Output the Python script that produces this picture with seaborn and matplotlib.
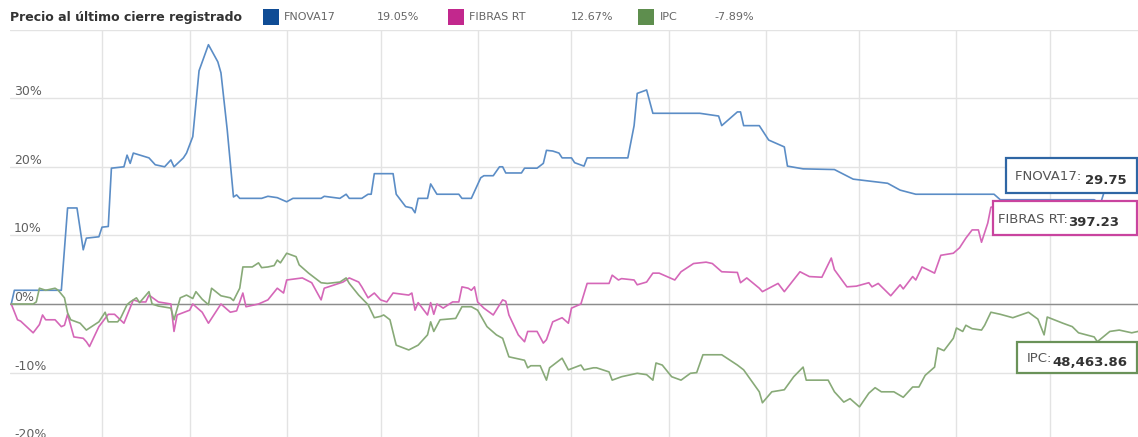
#!/usr/bin/env python3
# -*- coding: utf-8 -*-
"""
Rendimiento acumulado FNOVA17 vs FIBRAS RT vs IPC (precio al ultimo cierre)
"""

#%% Imports

import numpy as np
import pandas as pd
import seaborn as sns
import matplotlib.dates as mdates
import matplotlib.transforms as mtransforms
from matplotlib import pyplot as plt
from matplotlib.patches import Rectangle
from matplotlib.text import Annotation

#%% Data (day of year, cumulative % change)

YEAR_START = pd.Timestamp('2017-01-01')

FNOVA_DAYS = [3, 4, 19, 21, 24, 26, 27, 31, 32, 34, 35, 39, 40, 41, 42, 47, 49, 52, 54, 55,
              58, 59, 61, 63, 66, 69, 70, 72, 74, 75, 76, 83, 85, 88, 91, 93, 102, 103, 108,
              110, 111, 115, 117, 118, 119, 121, 125, 126, 129, 131, 132, 133, 136, 137, 139,
              146, 147, 150, 153, 154, 157, 159, 160, 161, 166, 167, 171, 173, 174, 176, 178,
              179, 182, 183, 186, 187, 200, 202, 203, 206, 208, 223, 229, 230, 235, 236, 237,
              242, 245, 250, 251, 256, 266, 272, 283, 287, 292, 317, 319, 349, 351, 354, 363]
FNOVA_PCT = [0.0, 2.0, 2.0, 14.0, 14.0, 7.9, 9.6, 9.8, 11.2, 11.3, 19.8, 20.0, 21.7, 20.5, 22.0,
             21.3, 20.3, 20.0, 21.0, 20.0, 21.3, 22.0, 24.4, 34.0, 37.8, 35.3, 33.7, 25.4, 15.6,
             15.9, 15.4, 15.4, 15.7, 15.5, 14.9, 15.4, 15.4, 15.7, 15.4, 16.0, 15.4, 15.4, 16.0,
             16.0, 19.0, 19.0, 19.0, 16.0, 14.2, 14.0, 13.3, 15.4, 15.4, 17.5, 16.0, 16.0, 15.4,
             15.4, 18.4, 18.7, 18.7, 20.0, 20.0, 19.1, 19.1, 19.8, 19.8, 20.5, 22.4, 22.3, 22.0,
             21.3, 21.3, 20.6, 20.1, 21.3, 21.3, 26.0, 30.7, 31.2, 27.8, 27.8, 27.4, 26.0, 28.0,
             28.0, 26.0, 26.0, 23.9, 22.9, 20.1, 19.7, 19.6, 18.2, 17.6, 16.6, 16.0, 16.0, 15.2,
             15.2, 14.6, 19.0, 19.05]

FIBRAS_DAYS = [3, 5, 6, 10, 12, 13, 14, 17, 19, 20, 21, 23, 26, 27, 28, 31, 34, 36, 39, 42,
               44, 46, 47, 50, 54, 55, 56, 60, 61, 64, 66, 70, 73, 75, 77, 78, 82, 85, 88, 90,
               91, 96, 99, 102, 103, 109, 111, 114, 115, 117, 119, 121, 123, 125, 130, 131,
               132, 133, 136, 137, 138, 139, 141, 144, 146, 147, 149, 150, 151, 152, 154, 157,
               160, 161, 162, 165, 167, 168, 171, 173, 174, 176, 179, 181, 182, 185, 187, 194,
               195, 197, 198, 202, 203, 206, 208, 210, 215, 217, 221, 225, 227, 230, 235, 236,
               238, 242, 243, 248, 250, 255, 258, 262, 265, 266, 270, 273, 277, 278, 280, 284,
               287, 288, 291, 292, 294, 298, 300, 304, 306, 308, 310, 312, 313, 315, 316, 319,
               322, 328, 338, 348, 354, 363]
FIBRAS_PCT = [0.0, -2.3, -2.5, -4.2, -3.0, -1.6, -2.3, -2.3, -3.3, -3.1, -1.5, -4.8, -5.0, -5.5,
              -6.2, -3.3, -1.5, -1.5, -2.8, 0.6, 0.3, 0.3, 1.3, 0.3, 0.0, -4.0, -1.6, -0.9, 0.0,
              -1.2, -2.8, 0.0, -1.2, -1.0, 1.6, -0.4, 0.0, 0.6, 2.3, 1.6, 3.5, 3.8, 3.1, 0.6,
              2.3, 3.2, 3.8, 3.2, 2.5, 0.9, 1.6, 0.6, 0.3, 1.6, 1.3, 1.6, -0.9, 0.2, -1.6, 0.2,
              -1.5, 0.0, -0.6, 0.3, 0.3, 2.5, 2.3, 2.0, 2.5, 0.3, -0.6, -1.6, 0.6, 0.4, -1.6,
              -4.5, -5.5, -4.0, -4.0, -5.7, -5.2, -2.6, -2.0, -2.8, -0.6, 0.0, 3.0, 3.0, 4.2,
              3.5, 3.7, 3.5, 2.8, 3.2, 4.5, 4.5, 3.5, 4.7, 5.9, 6.1, 5.9, 4.7, 4.6, 3.1, 3.8,
              2.3, 1.8, 3.0, 1.8, 4.7, 4.0, 3.9, 6.7, 5.0, 2.5, 2.6, 3.1, 2.5, 3.0, 1.2, 2.8,
              2.2, 4.0, 3.5, 5.4, 4.5, 7.1, 7.4, 8.2, 9.6, 10.8, 10.8, 9.0, 11.8, 14.1, 14.5,
              15.0, 14.5, 13.8, 13.0, 12.3, 12.67]

IPC_DAYS = [3, 4, 10, 11, 12, 14, 17, 18, 20, 21, 22, 25, 27, 29, 31, 33, 34, 37, 38, 40, 41,
            43, 44, 47, 48, 50, 54, 55, 57, 59, 61, 62, 64, 66, 67, 70, 73, 74, 76, 77, 80, 82,
            83, 85, 87, 88, 89, 91, 94, 95, 98, 102, 104, 108, 110, 111, 114, 117, 119, 121,
            122, 124, 126, 130, 133, 136, 137, 138, 140, 145, 147, 150, 152, 155, 158, 160,
            162, 167, 168, 169, 172, 174, 175, 179, 181, 185, 186, 189, 190, 194, 195, 198,
            203, 206, 208, 209, 211, 214, 217, 220, 222, 224, 230, 235, 237, 242, 243, 246,
            250, 253, 256, 257, 264, 266, 269, 271, 274, 277, 279, 281, 285, 288, 291, 293,
            295, 298, 299, 301, 304, 305, 307, 308, 310, 313, 314, 316, 319, 323, 328, 331,
            333, 334, 339, 342, 344, 349, 350, 354, 357, 361, 363]
IPC_PCT = [0.0, 0.0, 0.0, 0.3, 2.3, 2.0, 2.3, 2.0, 0.9, -1.3, -2.3, -2.8, -3.8, -3.2, -2.6,
           -1.2, -2.6, -2.6, -2.0, -0.1, 0.3, 0.9, 0.2, 1.8, 0.0, -0.3, -0.6, -2.3, 0.9, 1.3,
           0.8, 1.8, 0.7, -0.1, 2.3, 1.2, 0.9, 0.5, 2.3, 5.4, 5.4, 6.0, 5.3, 5.4, 5.6, 6.4,
           6.0, 7.4, 6.9, 5.7, 4.5, 3.1, 3.0, 3.2, 3.8, 3.0, 1.3, -0.1, -2.0, -1.8, -1.6,
           -2.3, -6.0, -6.7, -6.0, -4.5, -2.6, -4.0, -2.3, -2.1, -0.4, -0.4, -0.9, -3.3,
           -4.5, -5.0, -7.7, -8.2, -9.3, -9.0, -9.0, -11.1, -9.3, -7.9, -9.6, -8.9, -9.6,
           -9.3, -9.3, -9.9, -11.1, -10.6, -10.1, -10.3, -11.1, -8.6, -8.9, -10.6, -11.1,
           -10.1, -10.0, -7.4, -7.4, -8.9, -9.6, -12.8, -14.4, -12.8, -12.5, -10.6, -9.2,
           -11.1, -11.1, -12.8, -14.3, -13.8, -15.0, -13.0, -12.2, -12.8, -12.8, -13.6,
           -12.1, -12.1, -10.4, -9.2, -6.4, -6.8, -5.0, -3.5, -4.0, -3.1, -3.6, -3.8, -3.1,
           -1.2, -1.5, -2.0, -1.2, -2.2, -4.5, -1.9, -2.8, -3.3, -4.2, -4.8, -5.5, -4.0,
           -3.8, -4.2, -4.0]

SERIES = ['FNOVA17', 'FIBRAS RT', 'IPC']
LEGEND_PCT = ['19.05%', '12.67%', '-7.89%']
LAST_PRICE = ['29.75', '397.23', '48,463.86']
LAST_LABEL = ['FNOVA17: ', 'FIBRAS RT:', 'IPC:']

LINE_COLOURS = {'FNOVA17': '#5b8dc6', 'FIBRAS RT': '#d567b8', 'IPC': '#88aa78'}
SQUARE_COLOURS = ['#0f4c95', '#c2288d', '#5e8e4e']
BOX_COLOURS = ['#2f66a4', '#c9449f', '#6a9259']

W, H = 1138, 437

#%% Main

if __name__ == '__main__':

    frames = []
    for name, days, pct in zip(SERIES, [FNOVA_DAYS, FIBRAS_DAYS, IPC_DAYS],
                               [FNOVA_PCT, FIBRAS_PCT, IPC_PCT]):
        frames.append(pd.DataFrame({
            'fecha': YEAR_START + pd.to_timedelta(np.array(days) - 1, unit='D'),
            'rend': pct,
            'serie': name}))
    df = pd.concat(frames, ignore_index=True)

    sns.set_style('white')
    plt.rcParams['font.family'] = ['DejaVu Sans']

    fig = plt.figure(figsize=(W / 100, H / 100), dpi=100)
    ax = fig.add_axes([10 / W, 1 - 441.2 / H, 1128 / W, (441.2 - 29.6) / H])

    sns.lineplot(data=df, x='fecha', y='rend', hue='serie', palette=LINE_COLOURS,
                 linewidth=1.2, estimator=None, legend=False, ax=ax, zorder=3)

    ax.set_xlim(YEAR_START + pd.Timedelta(days=1.6), YEAR_START + pd.Timedelta(days=362))
    ax.set_ylim(-20, 40)
    ax.set_yticks(range(-20, 41, 10))
    ax.xaxis.set_major_locator(mdates.MonthLocator())
    ax.grid(True, color='#e3e3e3', linewidth=1)
    ax.axhline(0, color='#8c8c8c', linewidth=1, zorder=2)
    ax.tick_params(length=0, labelbottom=False, labelleft=False)
    ax.set_xlabel('')
    ax.set_ylabel('')
    for sp in ax.spines.values():
        sp.set_visible(False)

    # y labels inside the plot, sitting on their gridlines
    trans = mtransforms.blended_transform_factory(ax.transAxes, ax.transData)
    for v in range(-20, 31, 10):
        ax.text(4 / 1128, v, '{}%'.format(v), transform=trans, ha='left', va='bottom',
                fontsize=9, color='#606060', zorder=4)

    # header legend
    fig.text(10 / W, 1 - 17 / H, 'Precio al último cierre registrado', fontsize=9,
             fontweight='bold', color='#333333', va='center', ha='left')
    sq_x = [263, 448, 638]
    name_x = [284, 469, 660]
    pct_x = [377, 571, 714]
    for i, name in enumerate(SERIES):
        fig.patches.append(Rectangle((sq_x[i] / W, 1 - 25 / H), 16 / W, 16 / H,
                                     transform=fig.transFigure, facecolor=SQUARE_COLOURS[i],
                                     edgecolor='none'))
        fig.text(name_x[i] / W, 1 - 17 / H, name, fontsize=8, color='#666666',
                 va='center', ha='left')
        fig.text(pct_x[i] / W, 1 - 17 / H, LEGEND_PCT[i], fontsize=8, color='#666666',
                 va='center', ha='left')

    # last value tooltips
    boxes = [(1006, 158, 1137, 193), (993, 201, 1137, 235), (1017, 342, 1137, 373)]
    text_pad = [9, 5, 10]
    for i, (x0, y0, x1, y1) in enumerate(boxes):
        fig.add_artist(Rectangle((x0 / W, 1 - y1 / H), (x1 - x0) / W, (y1 - y0) / H,
                                 transform=fig.transFigure, facecolor='white',
                                 edgecolor=BOX_COLOURS[i], linewidth=1.6, zorder=5))
        t = fig.text((x0 + text_pad[i]) / W, 1 - (y0 + y1) / 2 / H - 5 / H, LAST_LABEL[i],
                     fontsize=9.5, color='#555555', ha='left', va='baseline', zorder=6)
        fig.add_artist(Annotation(LAST_PRICE[i], xy=(1, 0), xycoords=t,
                                  fontsize=9.5, fontweight='bold', color='#333333',
                                  ha='left', va='baseline', zorder=6))

    plt.savefig('out.png', dpi=100)
    plt.close()
